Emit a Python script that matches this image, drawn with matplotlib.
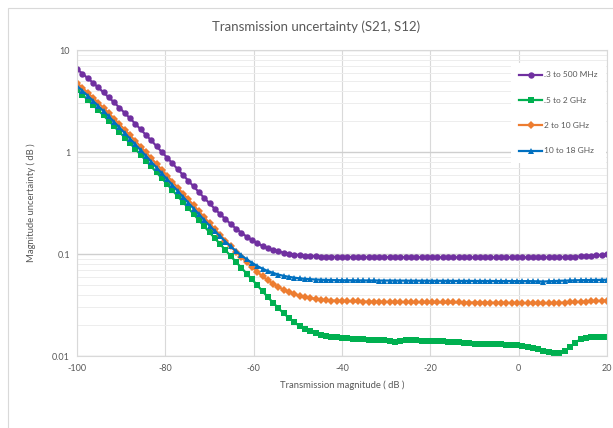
import numpy as np
import matplotlib
matplotlib.use("Agg")
import matplotlib.pyplot as plt
from matplotlib.ticker import LogLocator, FuncFormatter, NullFormatter
from matplotlib.patches import Rectangle

plt.rcParams['font.family'] = ['Lato', 'DejaVu Sans']
plt.rcParams['axes.unicode_minus'] = False

# transmission magnitude sweep, -100 .. 20 dB (101 points)
x_db = np.linspace(-100, 20, 101)

labels = [".3 to 500 MHz", ".5 to 2 GHz", "2 to 10 GHz", "10 to 18 GHz"]

u_300k_500m = [
    6.49, 5.88, 5.31, 4.78, 4.29, 3.84, 3.43, 3.06, 2.72, 2.41,
    2.14, 1.89, 1.67, 1.47, 1.30, 1.14, 1.00, 0.880, 0.774, 0.678,
    0.595, 0.523, 0.460, 0.404, 0.355, 0.314, 0.277, 0.246, 0.220, 0.197,
    0.177, 0.162, 0.148, 0.137, 0.128, 0.120, 0.1145, 0.1097, 0.1059, 0.1029,
    0.1006, 0.0988, 0.0975, 0.0964, 0.0956, 0.0950, 0.0945, 0.0941, 0.0939, 0.0937,
    0.0935, 0.0934, 0.0933, 0.0933, 0.0932, 0.0932, 0.0931, 0.0931, 0.0931, 0.0930,
    0.0930, 0.0930, 0.0930, 0.0929, 0.0929, 0.0929, 0.0929, 0.0929, 0.0928, 0.0928,
    0.0928, 0.0928, 0.0928, 0.0928, 0.0927, 0.0927, 0.0927, 0.0927, 0.0927, 0.0927,
    0.0927, 0.0927, 0.0927, 0.0927, 0.0927, 0.0927, 0.0928, 0.0928, 0.0929, 0.0930,
    0.0931, 0.0933, 0.0935, 0.0938, 0.0942, 0.0947, 0.0953, 0.0960, 0.0970, 0.0982,
    0.0995]

u_500m_2g = [
    4.08, 3.65, 3.26, 2.90, 2.58, 2.28, 2.02, 1.785, 1.574, 1.386,
    1.220, 1.072, 0.940, 0.824, 0.722, 0.632, 0.553, 0.484, 0.423, 0.369,
    0.323, 0.282, 0.246, 0.2145, 0.1872, 0.1631, 0.1429, 0.1251, 0.1093, 0.0955,
    0.0836, 0.0734, 0.0643, 0.0565, 0.0495, 0.0432, 0.0378, 0.0333, 0.0294, 0.0262,
    0.0236, 0.0214, 0.0197, 0.0184, 0.0174, 0.0167, 0.0162, 0.0158, 0.0155, 0.0153,
    0.0150, 0.0149, 0.0148, 0.0147, 0.0146, 0.0145, 0.0145, 0.0144, 0.0143, 0.0140,
    0.0137, 0.0140, 0.0142, 0.0142, 0.0142, 0.0141, 0.0141, 0.0140, 0.0140, 0.0139,
    0.0138, 0.0138, 0.0136, 0.0134, 0.0133, 0.0132, 0.0132, 0.0131, 0.0131, 0.0130,
    0.0130, 0.0129, 0.0128, 0.0127, 0.0125, 0.0123, 0.0120, 0.0117, 0.0113, 0.0110,
    0.0108, 0.0108, 0.0112, 0.0122, 0.0135, 0.0146, 0.0151, 0.0152, 0.0152, 0.0152,
    0.0152]

u_2g_10g = [
    4.75, 4.27, 3.82, 3.41, 3.04, 2.70, 2.40, 2.12, 1.875, 1.656,
    1.459, 1.284, 1.129, 0.992, 0.870, 0.763, 0.668, 0.585, 0.512, 0.447,
    0.3915, 0.3427, 0.2999, 0.2622, 0.2290, 0.2004, 0.1753, 0.1542, 0.1355, 0.1193,
    0.1050, 0.0932, 0.0830, 0.0744, 0.0669, 0.0605, 0.0554, 0.0511, 0.0475, 0.0446,
    0.0423, 0.0404, 0.0390, 0.0378, 0.0370, 0.0363, 0.0357, 0.0353, 0.0350, 0.0348,
    0.0346, 0.0345, 0.0344, 0.0343, 0.0342, 0.0341, 0.0340, 0.0340, 0.0339, 0.0339,
    0.0338, 0.0338, 0.0338, 0.0337, 0.0337, 0.0337, 0.0336, 0.0336, 0.0336, 0.0335,
    0.0335, 0.0335, 0.0335, 0.0334, 0.0334, 0.0334, 0.0333, 0.0333, 0.0333, 0.0332,
    0.0332, 0.0332, 0.0331, 0.0331, 0.0330, 0.0330, 0.0329, 0.0329, 0.0328, 0.0329,
    0.0330, 0.0332, 0.0334, 0.0336, 0.0338, 0.0340, 0.0342, 0.0344, 0.0346, 0.0348,
    0.0349]

u_10g_18g = [
    4.45, 3.99, 3.57, 3.18, 2.83, 2.51, 2.23, 1.97, 1.739, 1.533,
    1.351, 1.188, 1.042, 0.917, 0.804, 0.704, 0.6165, 0.5408, 0.4742, 0.4147,
    0.3632, 0.3188, 0.2792, 0.2452, 0.2155, 0.1898, 0.1677, 0.1489, 0.1325, 0.1187,
    0.1066, 0.0972, 0.0887, 0.0821, 0.0763, 0.0717, 0.0681, 0.0652, 0.0628, 0.0610,
    0.0597, 0.0586, 0.0577, 0.0571, 0.0566, 0.0562, 0.0559, 0.0557, 0.0556, 0.0554,
    0.0553, 0.0552, 0.0552, 0.0551, 0.0551, 0.0550, 0.0550, 0.0549, 0.0549, 0.0549,
    0.0548, 0.0548, 0.0548, 0.0547, 0.0547, 0.0547, 0.0547, 0.0546, 0.0546, 0.0546,
    0.0546, 0.0545, 0.0545, 0.0545, 0.0545, 0.0544, 0.0544, 0.0544, 0.0544, 0.0543,
    0.0543, 0.0543, 0.0543, 0.0542, 0.0542, 0.0542, 0.0541, 0.0539, 0.0537, 0.0540,
    0.0543, 0.0546, 0.0548, 0.0550, 0.0552, 0.0554, 0.0555, 0.0556, 0.0557, 0.0558,
    0.0559]

x_ticks = [-100, -80, -60, -40, -20, 0, 20]

series = [
    (u_300k_500m, '#7030A0', 'o', 4.6),
    (u_500m_2g, '#00B050', 's', 4.6),
    (u_2g_10g, '#ED7D31', 'D', 3.6),
    (u_10g_18g, '#0070C0', '^', 5.0),
]

text_col = '#595959'

fig = plt.figure(figsize=(6.13, 4.28), dpi=100)
# chart area outline (only top/left edge visible in the crop)
fig.patches.append(Rectangle((8 / 613, -0.1), 1.2, 1 - 8 / 428 + 0.1,
                             transform=fig.transFigure, fill=False,
                             edgecolor='#d9d9d9', linewidth=0.8))

ax = fig.add_axes([77 / 613, 1 - 356 / 428, 530 / 613, 306 / 428])

for (vals, col, mk, ms), lab in zip(series, labels):
    ax.plot(x_db, vals, color=col, marker=mk, markersize=ms, linewidth=1.6,
            markeredgewidth=0, label=lab)

ax.set_yscale('log')
ax.set_xlim(-100, 20)
ax.set_ylim(0.01, 10)
ax.set_xticks(x_ticks)
ax.yaxis.set_major_locator(LogLocator(base=10))
ax.yaxis.set_minor_locator(LogLocator(base=10, subs=np.arange(2, 10)))
ax.yaxis.set_major_formatter(FuncFormatter(lambda v, _: f'{v:g}'))
ax.yaxis.set_minor_formatter(NullFormatter())

ax.grid(which='major', axis='x', color='#d9d9d9', linewidth=0.8)
ax.grid(which='major', axis='y', color='#cfcfcf', linewidth=1.0)
ax.grid(which='minor', axis='y', color='#ededed', linewidth=0.7)
ax.set_axisbelow(True)
for s in ax.spines.values():
    s.set_color('#d9d9d9')
    s.set_linewidth(0.8)

ax.tick_params(which='both', length=0, labelsize=6.5, labelcolor=text_col)
ax.tick_params(axis='x', pad=6)
ax.tick_params(axis='y', pad=5)

ax.set_xlabel('Transmission magnitude ( dB )', fontsize=6.8, color=text_col, labelpad=5)
ax.set_ylabel('Magnitude uncertainty ( dB )', fontsize=6.8, color=text_col, labelpad=12)
fig.text(316 / 613, 1 - 27 / 428, 'Transmission uncertainty (S21, S12)',
         ha='center', va='center', fontsize=9.5, color=text_col)

leg = ax.legend(loc='upper right', bbox_to_anchor=(0.998, 0.957), borderaxespad=0,
                fontsize=6, frameon=True, fancybox=False, labelspacing=2.2,
                handlelength=2.8, handletextpad=0.2, borderpad=1.0, labelcolor=text_col)
leg.get_frame().set_edgecolor('none')
leg.get_frame().set_facecolor('white')
leg.get_frame().set_alpha(1)

fig.savefig('out.png', dpi=100)
